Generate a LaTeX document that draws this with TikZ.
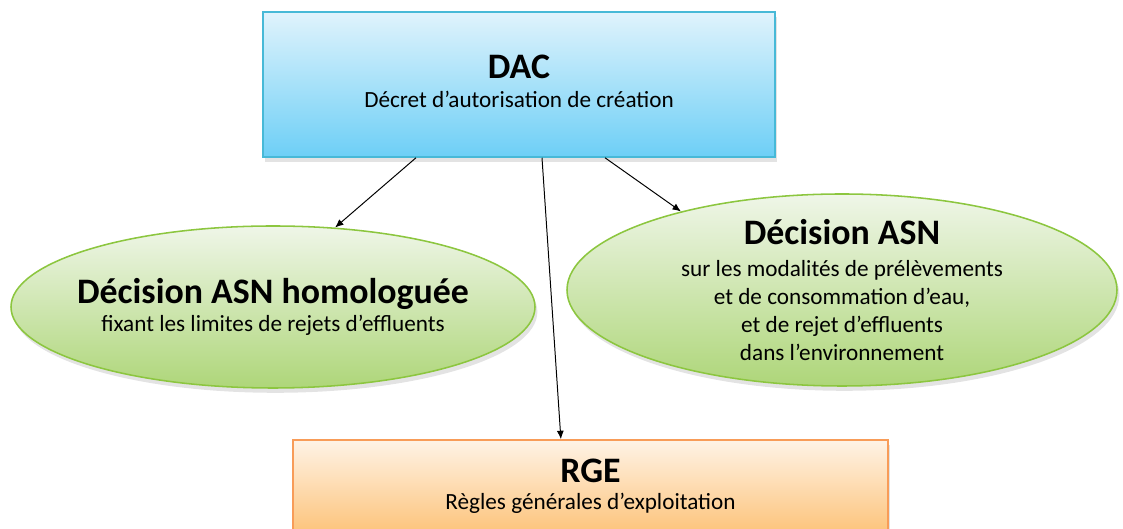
\documentclass[tikz,border=0pt]{standalone}
\usepackage{fontspec}
\setmainfont{Carlito}
\usetikzlibrary{shapes}
\usetikzlibrary{shadows}
\usetikzlibrary{arrows.meta}
\definecolor{dactop}{HTML}{E0F3FC}
\definecolor{dacbot}{HTML}{6DCFF6}
\definecolor{dacline}{HTML}{47B9D7}
\definecolor{asntop}{HTML}{EFF6E8}
\definecolor{asnbot}{HTML}{AED679}
\definecolor{asnline}{HTML}{8CC63F}
\definecolor{rgetop}{HTML}{FEF3E6}
\definecolor{rgebot}{HTML}{FDC47C}
\definecolor{rgeline}{HTML}{F89C58}
\tikzset{
    softshadow/.style = {drop shadow={opacity=0.22,shadow xshift=0.6mm,shadow yshift=-1.2mm}},
    dacbox/.style = {rectangle, line width=1.1pt, draw=dacline, top color=dactop, bottom color=dacbot, softshadow,
        minimum width=12.8cm, minimum height=3.625cm, align=center, text depth=5pt, font=\fontsize{16.5}{20.8}\selectfont},
    rgebox/.style = {rectangle, line width=1.1pt, draw=rgeline, top color=rgetop, bottom color=rgebot, softshadow,
        minimum width=14.875cm, minimum height=2.3cm, align=center, font=\fontsize{16.5}{19.2}\selectfont},
    asnell/.style = {ellipse, line width=1.1pt, draw=asnline, top color=asntop, bottom color=asnbot, softshadow,
        inner sep=-4cm, align=center, font=\fontsize{16.5}{19.9}\selectfont},
    edgen/.style = {-{Latex[length=6pt,width=5pt]}, line width=0.7pt, black},
}

\begin{document}
\begin{tikzpicture}
\useasboundingbox (0,0) rectangle (28.075,13.225);
\clip (0,0) rectangle (28.075,13.225);
%
\node[dacbox] at (12.975, 11.1125) (dac) {{\fontsize{25.5}{25.5}\selectfont\bfseries DAC}\\Décret d’autorisation de création};
\node[asnell, minimum width=13.1cm, minimum height=4.05cm] at (6.825, 5.55) (asnhom)
    {{\fontsize{25.5}{25.5}\selectfont\bfseries Décision ASN homologuée}\\fixant les limites de rejets d’effluents};
\node[asnell, minimum width=13.75cm, minimum height=4.8cm] at (21.05, 5.975) (asneau)
    {{\fontsize{25.5}{25.5}\selectfont\bfseries Décision ASN}\\[2.8pt]sur les modalités de prélèvements\\et de consommation d’eau,\\et de rejet d’effluents\\dans l’environnement};
\node[rgebox] at (14.7625, 1.075) (rge) {{\fontsize{25.5}{25.5}\selectfont\bfseries RGE}\\Règles générales d’exploitation};
%
\draw[edgen] ([xshift=-2.575cm]dac.south) -- (asnhom.52);
\draw[edgen] ([xshift=0.575cm]dac.south) -- ([xshift=-0.74cm]rge.north);
\draw[edgen] ([xshift=2.15cm]dac.south) -- (asneau.154);

\end{tikzpicture}
\end{document}
